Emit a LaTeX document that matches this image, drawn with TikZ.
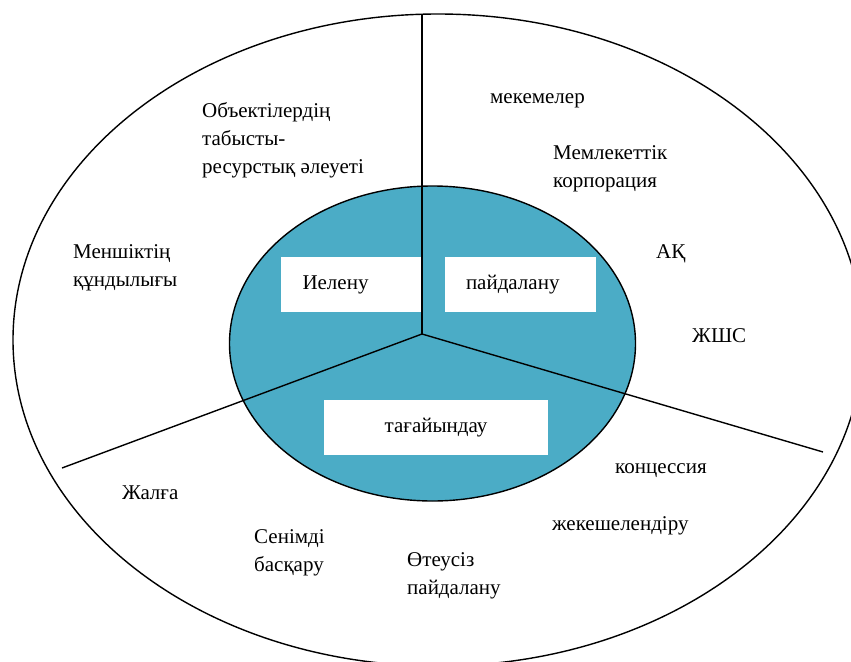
\documentclass[tikz,border=0pt]{standalone}
\usepackage{fontspec}
\setmainfont{Liberation Serif}
\usepackage{xcolor}
\usetikzlibrary{positioning, shapes.geometric}
\definecolor{coreblue}{RGB}{75,172,198}

\begin{document}
\begin{tikzpicture}[
    x=1pt, y=-1pt,
    ring/.style={draw=black, line width=1.4pt},
    spoke/.style={draw=black, line width=1.4pt},
    rolebox/.style={rectangle, fill=white, inner ysep=0pt, minimum height=55pt, font=\fontsize{21}{28}\selectfont},
    itemtext/.style={anchor=base west, align=left, inner sep=0pt, font=\fontsize{21}{28}\selectfont}
]
    \useasboundingbox (0,0) rectangle (851,661);
    \clip (0,0) rectangle (851,661);

    % rings
    \draw[ring] (438,340) ellipse [x radius=425, y radius=326];
    \node[ellipse, ring, fill=coreblue, minimum width=406pt, minimum height=315pt, inner sep=0pt] (core) at (432.5,343.5) {};

    % spokes
    \coordinate (hub) at (422,334);
    \coordinate (northend) at (422,14);
    \coordinate (westend) at (62,468);
    \coordinate (eastend) at (823,452);
    \draw[spoke] (hub) -- (northend);
    \draw[spoke] (hub) -- (westend);
    \draw[spoke] (hub) -- (eastend);

    % inner boxes
    \node[rolebox, text width=96pt, inner xsep=22pt, align=left] (own) at (350.5,284.5) {Иелену};
    \node[rolebox, text width=109pt, inner xsep=21pt, align=left] (use) at (520.5,284.5) {пайдалану};
    \node[rolebox, text width=204pt, inner xsep=10pt, align=center] (dispose) at (436,427.5) {тағайындау};

    % outer texts (anchored at the last line)
    \node[itemtext] (potential) at (202,173) {Объектілердің\\табысты-\\ресурстық әлеуеті};
    \node[itemtext] (value) at (73,286) {Меншіктің\\құндылығы};
    \node[itemtext] (institutions) at (490,103) {мекемелер};
    \node[itemtext] (corporation) at (553,187) {Мемлекеттік\\корпорация};
    \node[itemtext] (jsc) at (656,258) {АҚ};
    \node[itemtext] (llp) at (692,342) {ЖШС};
    \node[itemtext] (concession) at (615,473) {концессия};
    \node[itemtext] (privatisation) at (552,530) {жекешелендіру};
    \node[itemtext] (lease) at (122,499) {Жалға};
    \node[itemtext] (trust) at (254,571) {Сенімді\\басқару};
    \node[itemtext] (freeuse) at (407,594) {Өтеусіз\\пайдалану};
\end{tikzpicture}
\end{document}
